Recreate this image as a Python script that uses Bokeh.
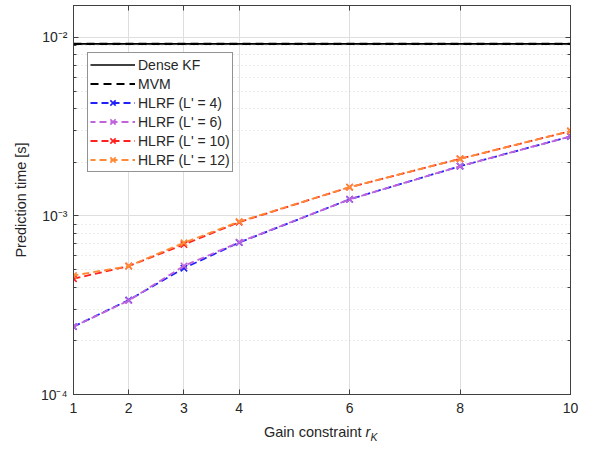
from bokeh.plotting import figure
from bokeh.layouts import column
from bokeh.models import (FixedTicker, LinearAxis, LogAxis, Range1d, Div,
                          CustomJSTickFormatter)
from bokeh.embed import file_html
from bokeh.resources import INLINE

# ---- data ----
r_k = [1, 2, 3, 4, 6, 8, 10]
x_ticks = [1, 2, 3, 4, 6, 8, 10]
dense_kf = [0.0092, 0.0092, 0.0092, 0.0092, 0.0092, 0.0092, 0.0092]
mvm = [0.0092, 0.0092, 0.0092, 0.0092, 0.0092, 0.0092, 0.0092]
hlrf_4 = [2.40e-4, 3.38e-4, 5.10e-4, 7.10e-4, 1.24e-3, 1.90e-3, 2.79e-3]
hlrf_6 = [2.40e-4, 3.36e-4, 5.25e-4, 7.13e-4, 1.24e-3, 1.90e-3, 2.79e-3]
hlrf_10 = [4.45e-4, 5.24e-4, 6.92e-4, 9.23e-4, 1.45e-3, 2.09e-3, 2.99e-3]
hlrf_12 = [4.64e-4, 5.24e-4, 7.08e-4, 9.30e-4, 1.45e-3, 2.09e-3, 2.99e-3]

series_names = ["HLRF (L' = 4)", "HLRF (L' = 6)", "HLRF (L' = 10)", "HLRF (L' = 12)"]
series_values = [hlrf_4, hlrf_6, hlrf_10, hlrf_12]
series_colors = ["#2020f8", "#c064dc", "#ff2020", "#ff8a35"]
dash_offsets = [0, 2, 0, 2]

FONT = "Liberation Sans"
TXT = "#262626"

p = figure(width=586, height=420,
           x_range=Range1d(1, 10), y_range=Range1d(1e-4, 0.0151),
           y_axis_type="log", output_backend="svg", toolbar_location=None,
           min_border_left=73, min_border_right=16, min_border_top=5,
           min_border_bottom=26)
p.outline_line_color = "#404040"
p.outline_line_width = 1
p.background_fill_color = "white"
p.border_fill_color = "white"

# black reference lines
p.line(r_k, dense_kf, color="black", line_width=1.6, legend_label="Dense KF")
p.line(r_k, mvm, color="black", line_width=2.2, line_dash="8 5", legend_label="MVM")

for name, vals, col, off in zip(series_names, series_values, series_colors, dash_offsets):
    p.line(r_k, vals, color=col, line_width=1.8, line_dash="7 4",
           line_dash_offset=off, legend_label=name)
    p.scatter(r_k, vals, marker="x", size=9, line_color=col, line_width=1.6,
              legend_label=name)

# axes
sup_js = """
const sup = {"-":"\u207b","0":"\u2070","1":"\u00b9","2":"\u00b2","3":"\u00b3",
             "4":"\u2074","5":"\u2075","6":"\u2076","7":"\u2077","8":"\u2078","9":"\u2079"};
const e = Math.round(Math.log10(tick));
return "10" + String(e).split("").map(c => sup[c]).join("");
"""
xa = p.xaxis[0]
xa.ticker = FixedTicker(ticks=x_ticks)
ya = p.yaxis[0]
ya.formatter = CustomJSTickFormatter(code=sup_js)

for ax in (xa, ya):
    ax.axis_line_color = "#404040"
    ax.major_tick_line_color = "#404040"
    ax.minor_tick_line_color = "#404040"
    ax.major_tick_in = 5
    ax.major_tick_out = 0
    ax.minor_tick_in = 3
    ax.minor_tick_out = 0
    ax.major_label_text_font = FONT
    ax.major_label_text_font_size = "14px"
    ax.major_label_text_color = TXT
xa.major_label_standoff = 8
ya.major_label_standoff = 6

ya.axis_label = "Prediction time [s]"
ya.axis_label_text_font = FONT
ya.axis_label_text_font_size = "14.5px"
ya.axis_label_text_font_style = "normal"
ya.axis_label_text_color = TXT
ya.axis_label_standoff = 9

top = LinearAxis(ticker=FixedTicker(ticks=x_ticks), formatter=CustomJSTickFormatter(code='return ""'))
right = LogAxis(formatter=CustomJSTickFormatter(code='return ""'))
for ax in (top, right):
    ax.axis_line_color = "#404040"
    ax.major_tick_line_color = "#404040"
    ax.minor_tick_line_color = "#404040"
    ax.major_tick_in = 5
    ax.major_tick_out = 0
    ax.minor_tick_in = 3
    ax.minor_tick_out = 0
    ax.major_label_standoff = 0
p.add_layout(top, "above")
p.add_layout(right, "right")

# grids
p.xgrid.ticker = FixedTicker(ticks=x_ticks)
p.xgrid.grid_line_color = "#dedede"
p.ygrid.grid_line_color = "#dedede"
p.ygrid.minor_grid_line_color = "#d8d8d8"
p.ygrid.minor_grid_line_dash = "1 3"

# legend
lg = p.legend[0]
lg.location = (14, 222)
lg.label_text_font = FONT
lg.label_text_font_size = "14px"
lg.label_text_color = TXT
lg.glyph_width = 45
lg.glyph_height = 19
lg.label_height = 19
lg.label_standoff = 3
lg.spacing = 0
lg.padding = 2
lg.margin = 0
lg.border_line_color = "#262626"
lg.border_line_width = 1
lg.background_fill_color = "white"
lg.background_fill_alpha = 1

# x-axis title with italic r and subscript K
xlabel = Div(
    text=('<div style="padding-left:259px; margin-top:-4px; font-family:\'Liberation Sans\'; '
          'font-size:14.5px; color:#262626; line-height:18px; white-space:nowrap;">'
          'Gain constraint <i>r</i><sub style="font-size:10.5px;"><i>K</i></sub></div>'),
    width=586, height=25)

layout = column(p, xlabel, spacing=0)
open("out.html", "w").write(file_html(layout, INLINE))
